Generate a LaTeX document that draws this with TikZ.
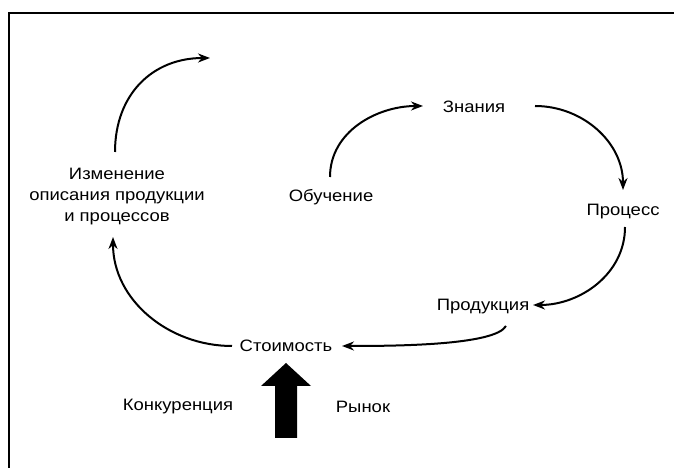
\documentclass[tikz,border=0pt]{standalone}
\usepackage{fontspec}
\setmainfont[FakeStretch=1.12]{Liberation Sans}
\usetikzlibrary{arrows.meta}
\tikzstyle{term} = [font=\fontsize{16.5}{21}\selectfont, inner sep=0pt, align=center]
\tikzstyle{arrow} = [line width=2pt, -{Stealth[length=12pt,width=9pt]}]
\tikzstyle{frame} = [line width=2.5pt]

\begin{document}
\begin{tikzpicture}[x=1pt,y=1pt]
\useasboundingbox (0,0) rectangle (674,468);
\draw [frame] (9,0) -- (9,455) -- (674,455);

\node (izm) [term] at (117,271) {Изменение\\описания продукции\\и процессов};
\node (obuch) [term] at (331,271) {Обучение};
\node (znan) [term] at (474,361) {Знания};
\node (proc) [term] at (623,256) {Процесс};
\node (prod) [term] at (483,161) {Продукция};
\node (stoim) [term] at (286,122) {Стоимость};
\node (konk) [term] at (178,61) {Конкуренция};
\node (rynok) [term] at (363,61) {Рынок};
\coordinate (topend) at (210,410);

\draw [arrow] ([shift={(-2,45)}]izm.center) to[out=90, in=180, looseness=1.1] (topend);
\draw [arrow] ([shift={(-1,20)}]obuch.center) to[out=90, in=180] ([shift={(-51,1)}]znan.center);
\draw [arrow] ([shift={(61,1)}]znan.center) to[out=0, in=90] ([shift={(0,22)}]proc.center);
\draw [arrow] ([shift={(2,-15)}]proc.center) to[out=-90, in=0] ([shift={(50,2)}]prod.center);
\draw [arrow] ([shift={(23,-19)}]prod.center) to[out=240, in=0, out looseness=0.35, in looseness=0.8] ([shift={(56,0)}]stoim.center);
\draw [arrow] ([shift={(-54,0)}]stoim.center) to[out=180, in=-90] ([shift={(-4,-40)}]izm.center);

% big market arrow
\fill (275,30) -- (275,82) -- (261,82) -- (286,105) -- (311,82) -- (297,82) -- (297,30) -- cycle;

\end{tikzpicture}
\end{document}
